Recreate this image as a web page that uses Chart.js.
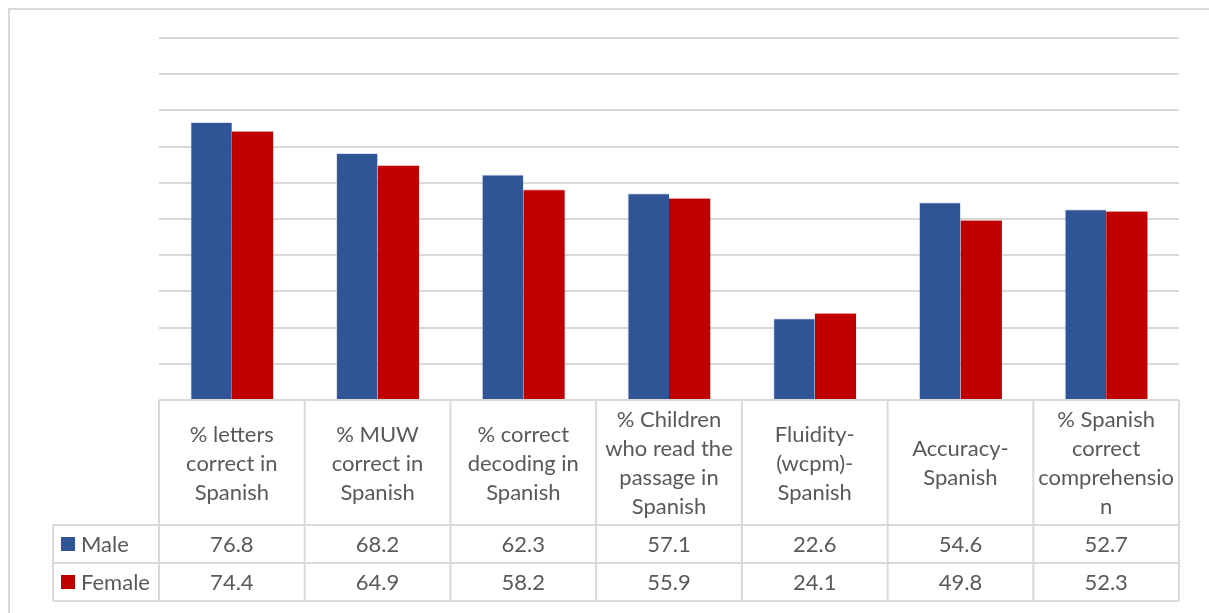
<!DOCTYPE html>
<html>
<head>
<meta charset="utf-8">
<script src="https://cdn.jsdelivr.net/npm/chart.js@4.4.1/dist/chart.umd.min.js"></script>
<style>
  html, body { margin: 0; padding: 0; background: #ffffff; }
  #wrap { width: 1209px; height: 613px; position: relative; }
  canvas { display: block; }
</style>
</head>
<body>
<div id="wrap"><canvas id="chart" width="1209" height="613"></canvas></div>
<script>
// Reading indicators in Spanish, by sex (%)
const categories = [
  ['% letters', 'correct in', 'Spanish'],
  ['% MUW', 'correct in', 'Spanish'],
  ['% correct', 'decoding in', 'Spanish'],
  ['% Children', 'who read the', 'passage in', 'Spanish'],
  ['Fluidity-', '(wcpm)-', 'Spanish'],
  ['Accuracy-', 'Spanish'],
  ['% Spanish', 'correct', 'comprehensio', 'n']
];
const seriesNames = ['Male', 'Female'];
const maleValues = [76.8, 68.2, 62.3, 57.1, 22.6, 54.6, 52.7];
const femaleValues = [74.4, 64.9, 58.2, 55.9, 24.1, 49.8, 52.3];
const seriesColors = ['#2F5597', '#C00000'];
const yMin = 0, yMax = 100, yStep = 10;

const gridColor = '#D9D9D9';
const textColor = '#595959';
const fontFamily = 'Lato, "Open Sans", sans-serif';
const fontSize = 22;
const lineSpacing = 29;
const headerHeight = 125;
const rowHeight = 38;
const legendColLeft = 53;

// Draws the outer frame and the data table beneath the plot
const dataTablePlugin = {
  id: 'dataTable',
  beforeDraw(chart) {
    const ctx = chart.ctx;
    ctx.save();
    ctx.fillStyle = '#ffffff';
    ctx.fillRect(0, 0, chart.width, chart.height);
    ctx.strokeStyle = gridColor;
    ctx.lineWidth = 2;
    ctx.strokeRect(9, 9, chart.width - 2, chart.height + 20);
    ctx.restore();
  },
  afterDraw(chart) {
    const ctx = chart.ctx;
    const x = chart.scales.x;
    const area = chart.chartArea;
    const n = categories.length;
    const colW = (area.right - area.left) / n;
    const top = area.bottom;
    const headerBottom = top + headerHeight;
    const rowsBottom = headerBottom + rowHeight * seriesNames.length;

    ctx.save();
    ctx.strokeStyle = gridColor;
    ctx.lineWidth = 2;
    ctx.beginPath();
    // horizontal lines
    ctx.moveTo(area.left, top); ctx.lineTo(area.right, top);
    for (let r = 0; r <= seriesNames.length; r++) {
      const yy = headerBottom + r * rowHeight;
      ctx.moveTo(legendColLeft, yy); ctx.lineTo(area.right, yy);
    }
    // vertical lines
    ctx.moveTo(legendColLeft, headerBottom); ctx.lineTo(legendColLeft, rowsBottom);
    for (let i = 0; i <= n; i++) {
      const xx = area.left + i * colW;
      ctx.moveTo(xx, top); ctx.lineTo(xx, rowsBottom);
    }
    ctx.stroke();

    ctx.fillStyle = textColor;
    ctx.font = fontSize + 'px ' + fontFamily;
    ctx.textAlign = 'center';
    ctx.textBaseline = 'middle';

    // category headers
    for (let i = 0; i < n; i++) {
      const cx = x.getPixelForValue(i);
      const lines = categories[i];
      const cy = top + headerHeight / 2;
      const start = cy - (lines.length - 1) * lineSpacing / 2;
      lines.forEach((ln, k) => ctx.fillText(ln, cx, start + k * lineSpacing + 1));
    }

    // series rows
    chart.data.datasets.forEach((ds, r) => {
      const cy = headerBottom + r * rowHeight + rowHeight / 2 + 1;
      ctx.fillStyle = ds.backgroundColor;
      ctx.fillRect(61, cy - 8, 14, 14);
      ctx.fillStyle = textColor;
      ctx.textAlign = 'left';
      ctx.fillText(ds.label, 81, cy);
      ctx.textAlign = 'center';
      ds.data.forEach((v, i) => {
        ctx.fillText(v.toFixed(1), x.getPixelForValue(i), cy);
      });
    });
    ctx.restore();
  }
};

new Chart(document.getElementById('chart'), {
  type: 'bar',
  data: {
    labels: categories,
    datasets: [
      { label: seriesNames[0], data: maleValues, backgroundColor: seriesColors[0],
        borderColor: 'rgba(190,205,235,0.6)', borderWidth: { top: 1, left: 1, right: 0, bottom: 0 } },
      { label: seriesNames[1], data: femaleValues, backgroundColor: seriesColors[1],
        borderColor: 'rgba(230,120,120,0.5)', borderWidth: { top: 1, left: 0, right: 0, bottom: 0 } }
    ]
  },
  options: {
    responsive: false,
    animation: false,
    devicePixelRatio: 1,
    layout: { padding: { left: 159, right: 30, top: 38, bottom: 213 } },
    datasets: { bar: { categoryPercentage: 0.57, barPercentage: 1.0 } },
    plugins: { legend: { display: false }, tooltip: { enabled: false } },
    scales: {
      x: { display: false },
      y: {
        min: yMin, max: yMax,
        ticks: { display: false, stepSize: yStep },
        grid: { color: gridColor, lineWidth: 2, drawTicks: false },
        border: { display: false }
      }
    }
  },
  plugins: [dataTablePlugin]
});
</script>
</body>
</html>
